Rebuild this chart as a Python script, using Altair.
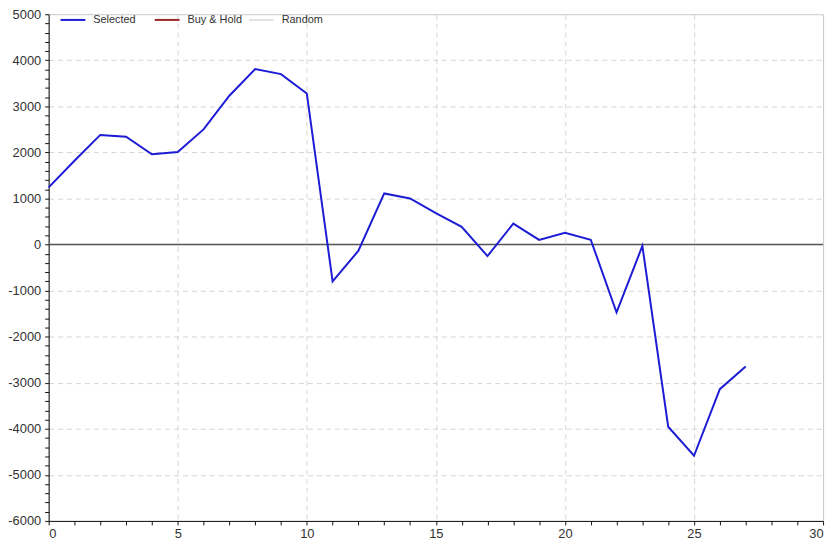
import altair as alt
import pandas as pd

# ---- data ----
series_names = ["Selected", "Buy & Hold", "Random"]
series_colors = ["#1c1cd4", "#9a2727", "#e2e2e2"]

trade_no = list(range(0, 28))
selected_values = [1240, 1820, 2380, 2340, 1960, 2010, 2500, 3230, 3810, 3700,
                   3280, -800, -135, 1110, 1000, 680, 385, -250, 455, 100,
                   255, 105, -1475, -30, -3955, -4585, -3140, -2650]

x_ticks = list(range(0, 31))
y_ticks = list(range(-6000, 5001, 200))
zero_line = [0]

df = pd.DataFrame({"x": trade_no, "y": selected_values, "series": ["Selected"] * len(trade_no)})
zero_df = pd.DataFrame({"y": zero_line})

FONT = "Liberation Sans"

x_scale = alt.Scale(domain=[0, 30], nice=False, zero=False)
y_scale = alt.Scale(domain=[-6000, 5000], nice=False, zero=False)

x_axis = alt.Axis(
    values=x_ticks,
    labelExpr="datum.value % 5 === 0 ? datum.label : ''",
    labelOverlap=False,
    title=None,
    grid=True,
    gridDash=[5, 4],
    gridColor="#d4d4d4",
    gridOpacity={"condition": {"test": "datum.value % 5 === 0 && datum.value > 0 && datum.value < 30", "value": 1}, "value": 0},
    domainColor="#111",
    tickColor="#111",
    tickSize=4,
    labelPadding=3,
    labelFont=FONT,
    labelFontSize=13,
    labelColor="#333",
)
y_axis = alt.Axis(
    values=y_ticks,
    labelExpr="datum.value % 1000 === 0 ? toString(datum.value) : ''",
    labelOverlap=False,
    title=None,
    grid=True,
    gridDash=[5, 4],
    gridColor="#d4d4d4",
    gridOpacity={"condition": {"test": "datum.value % 1000 === 0 && datum.value > -6000 && datum.value < 5000", "value": 1}, "value": 0},
    domainColor="#111",
    tickColor="#111",
    tickSize=4,
    labelPadding=4,
    labelFont=FONT,
    labelFontSize=13,
    labelColor="#333",
)

zero_rule = alt.Chart(zero_df).mark_rule(color="#555555", strokeWidth=1.5).encode(
    y=alt.Y("y:Q", scale=y_scale, axis=y_axis)
)

line = alt.Chart(df).mark_line(strokeWidth=2).encode(
    x=alt.X("x:Q", scale=x_scale, axis=x_axis),
    y=alt.Y("y:Q", scale=y_scale, axis=y_axis),
    color=alt.Color(
        "series:N",
        scale=alt.Scale(domain=series_names, range=series_colors),
        legend=alt.Legend(
            title=None,
            orient="none",
            legendX=11,
            legendY=-8,
            direction="horizontal",
            symbolType="stroke",
            symbolSize=625,
            symbolStrokeWidth=2,
            labelFont=FONT,
            labelFontSize=11,
            labelColor="#333",
            labelOffset=7,
            columnPadding=2,
            gridAlign="all",
        ),
    ),
)

chart = alt.layer(zero_rule, line).properties(
    width=781,
    height=511,
    autosize=alt.AutoSizeParams(type="none"),
    padding={"left": 41, "top": 4, "right": 9, "bottom": 21},
    background="white",
).configure_view(stroke="#c8c8c8", strokeWidth=1)

chart.save("out.html", embed_options={"renderer": "svg", "actions": False})
